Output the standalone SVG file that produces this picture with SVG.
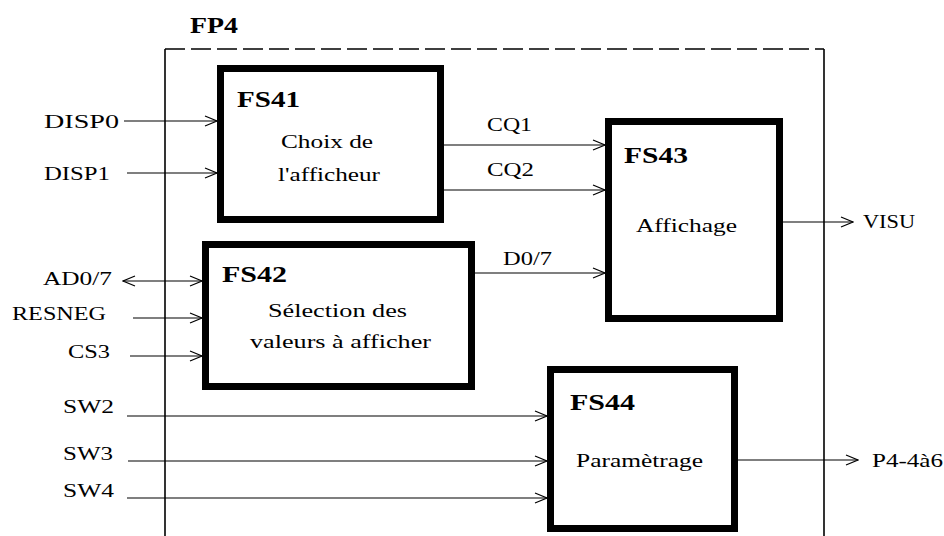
<svg xmlns="http://www.w3.org/2000/svg" width="944" height="536" viewBox="0 0 944 536">
<style>
.t{font-family:'Liberation Serif','DejaVu Serif','Times New Roman',serif;font-size:19px;fill:#000}
.b{font-family:'Liberation Serif','DejaVu Serif','Times New Roman',serif;font-size:24px;font-weight:bold;fill:#000}
.box{fill:#fff;stroke:#000;stroke-width:7}
.ln{stroke:#000;stroke-width:1.2;fill:none}
.fr{stroke:#000;stroke-width:1.6;fill:none}
</style>
<defs>
<marker id="ah" markerUnits="userSpaceOnUse" markerWidth="14" markerHeight="12" refX="13" refY="6" orient="auto-start-reverse">
<path d="M1,1 L13,6 L1,11" fill="none" stroke="#000" stroke-width="1.2"/>
</marker>
</defs>
<rect width="944" height="536" fill="#fff"/>
<g id="FP4">
<line class="fr" x1="165" y1="49" x2="824" y2="49" stroke-dasharray="20 6"/>
<line class="fr" x1="165" y1="49" x2="165" y2="536"/>
<line class="fr" x1="824" y1="49" x2="824" y2="536"/>
<text class="b" x="190" y="33" textLength="48" lengthAdjust="spacingAndGlyphs">FP4</text>
</g>
<g id="connectors">
<line class="ln" x1="124" y1="121" x2="217" y2="121" marker-end="url(#ah)"/>
<line class="ln" x1="127" y1="173" x2="217" y2="173" marker-end="url(#ah)"/>
<line class="ln" x1="444" y1="145" x2="605" y2="145" marker-end="url(#ah)"/>
<line class="ln" x1="444" y1="190" x2="605" y2="190" marker-end="url(#ah)"/>
<line class="ln" x1="783" y1="222" x2="853" y2="222" marker-end="url(#ah)"/>
<line class="ln" x1="123" y1="281" x2="202" y2="281" marker-start="url(#ah)" marker-end="url(#ah)"/>
<line class="ln" x1="133" y1="318" x2="202" y2="318" marker-end="url(#ah)"/>
<line class="ln" x1="130" y1="356" x2="202" y2="356" marker-end="url(#ah)"/>
<line class="ln" x1="475" y1="273" x2="605" y2="273" marker-end="url(#ah)"/>
<line class="ln" x1="127" y1="416" x2="547" y2="416" marker-end="url(#ah)"/>
<line class="ln" x1="128" y1="461" x2="547" y2="461" marker-end="url(#ah)"/>
<line class="ln" x1="127" y1="498" x2="547" y2="498" marker-end="url(#ah)"/>
<line class="ln" x1="738" y1="460" x2="858" y2="460" marker-end="url(#ah)"/>
<text class="t" x="44" y="128" textLength="75" lengthAdjust="spacingAndGlyphs">DISP0</text>
<text class="t" x="44" y="180" textLength="66" lengthAdjust="spacingAndGlyphs">DISP1</text>
<text class="t" x="487" y="131" textLength="45" lengthAdjust="spacingAndGlyphs">CQ1</text>
<text class="t" x="487" y="176" textLength="47" lengthAdjust="spacingAndGlyphs">CQ2</text>
<text class="t" x="863" y="228" textLength="52" lengthAdjust="spacingAndGlyphs">VISU</text>
<text class="t" x="43" y="285" textLength="69" lengthAdjust="spacingAndGlyphs">AD0/7</text>
<text class="t" x="12" y="320" textLength="94" lengthAdjust="spacingAndGlyphs">RESNEG</text>
<text class="t" x="68" y="358" textLength="42" lengthAdjust="spacingAndGlyphs">CS3</text>
<text class="t" x="503" y="265" textLength="49" lengthAdjust="spacingAndGlyphs">D0/7</text>
<text class="t" x="63" y="413" textLength="51" lengthAdjust="spacingAndGlyphs">SW2</text>
<text class="t" x="63" y="460" textLength="50" lengthAdjust="spacingAndGlyphs">SW3</text>
<text class="t" x="63" y="497" textLength="51" lengthAdjust="spacingAndGlyphs">SW4</text>
<text class="t" x="872" y="467" textLength="71" lengthAdjust="spacingAndGlyphs">P4-4à6</text>
</g>
<g id="FS41">
<rect class="box" x="220.5" y="68.5" width="220" height="151"/>
<text class="b" x="237" y="107" textLength="63" lengthAdjust="spacingAndGlyphs">FS41</text>
<text class="t" x="281" y="148" textLength="92" lengthAdjust="spacingAndGlyphs">Choix de</text>
<text class="t" x="278" y="181" textLength="102" lengthAdjust="spacingAndGlyphs">l'afficheur</text>
</g>
<g id="FS43">
<rect class="box" x="608.5" y="121.5" width="171" height="197"/>
<text class="b" x="624" y="163" textLength="64" lengthAdjust="spacingAndGlyphs">FS43</text>
<text class="t" x="636" y="232" textLength="101" lengthAdjust="spacingAndGlyphs">Affichage</text>
</g>
<g id="FS42">
<rect class="box" x="205.5" y="244.5" width="266" height="142"/>
<text class="b" x="222" y="282" textLength="65" lengthAdjust="spacingAndGlyphs">FS42</text>
<text class="t" x="268" y="317" textLength="139" lengthAdjust="spacingAndGlyphs">Sélection des</text>
<text class="t" x="250" y="348" textLength="181" lengthAdjust="spacingAndGlyphs">valeurs à afficher</text>
</g>
<g id="FS44">
<rect class="box" x="550.5" y="369.5" width="184" height="159"/>
<text class="b" x="570" y="410" textLength="65" lengthAdjust="spacingAndGlyphs">FS44</text>
<text class="t" x="576" y="467" textLength="127" lengthAdjust="spacingAndGlyphs">Paramètrage</text>
</g>
</svg>
